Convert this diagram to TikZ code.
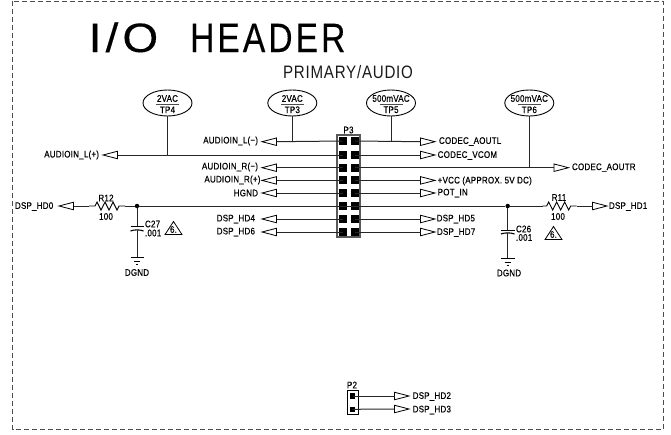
\documentclass[tikz,border=0pt]{standalone}
\usepackage{fontspec}
\setmainfont{Liberation Sans}
\newfontfamily\titlefont[LetterSpace=9,FakeBold=0.3]{Liberation Sans}
\newfontfamily\subfont[LetterSpace=5]{Liberation Sans}
\newfontfamily\smallfont[LetterSpace=3,FakeBold=0.5]{Liberation Sans}
\usetikzlibrary{shapes.geometric}
\tikzset{
  x=1pt,y=-1pt,
  wire/.style={line width=1pt,draw=black!85},
  flagbase/.style={isosceles triangle,isosceles triangle stretches=true,draw=black,line width=0.8pt,
    minimum width=7.5pt,minimum height=14.5pt,inner sep=0pt,outer sep=0pt,anchor=apex},
  flagl/.style={flagbase,shape border rotate=180},
  flagr/.style={flagbase,shape border rotate=0},
  txt/.style={font=\fontsize{9.5}{10}\selectfont\smallfont,xscale=0.84,inner sep=0pt,outer sep=0pt,text=black},
  txtl/.style={txt,anchor=west},
  txtr/.style={txt,anchor=east},
  txtc/.style={txt,anchor=center},
  tp/.style={ellipse,draw=black,line width=0.9pt,minimum width=49pt,minimum height=26pt,inner sep=0pt},
  tpbar/.style={line width=0.9pt,draw=black!70},
  pinsq/.style={rectangle,fill=black,minimum size=8pt,inner sep=0pt},
  hdr/.style={rectangle,draw=black!65,line width=1.1pt,inner sep=0pt},
  dot/.style={circle,fill=black,minimum size=4.5pt,inner sep=0pt},
  warn/.style={isosceles triangle,isosceles triangle stretches=true,draw=black,line width=0.8pt,
    minimum width=17pt,minimum height=13pt,inner sep=0pt,anchor=apex,shape border rotate=90},
  sym/.style={line width=0.9pt,draw=black},
  bigtxt/.style={anchor=base west,inner sep=0pt,text=black,font=\fontsize{41}{44}\selectfont\titlefont}
}
\begin{document}
\begin{tikzpicture}
\useasboundingbox (0,0) rectangle (671,434);
\coordinate (bTL) at (12.5,1);
\coordinate (bBR) at (663,429.5);
\draw[draw=black!70,line width=0.9pt,dash pattern=on 5pt off 3pt] (bTL) rectangle (bBR);

% titles
\node[bigtxt,xscale=1.12] (title) at (88.5,52) {I/O};
\node[bigtxt,xscale=0.82] (titleb) at (190,52) {HEADER};
\node[anchor=base west,inner sep=0pt,text=black!90,xscale=0.84,font=\fontsize{18}{20}\selectfont\subfont] (sub) at (283,78) {PRIMARY/AUDIO};

% P3 header
\node[hdr,minimum width=23pt,minimum height=102pt] (P3) at (348.5,186) {};
\node[txtc] (P3t) at (348.5,130) {P3};
\foreach \n/\y in {1/141,2/155,3/167.7,4/180.4,5/193,6/206,7/219,8/232}{
  \node[pinsq] (L\n) at (342.5,\y) {};
  \node[pinsq] (R\n) at (355,\y) {};
}

% left flags
\node[flagl] (fL1) at (262,141.7) {};
\node[flagl] (fL2) at (103,155) {};
\node[flagl] (fL3) at (262,167.7) {};
\node[flagl] (fL4) at (262,180.4) {};
\node[flagl] (fL5) at (262,193) {};
\node[flagl] (fL6) at (59,206) {};
\node[flagl] (fL7) at (262,219) {};
\node[flagl] (fL8) at (262,232) {};
\node[txtr] (tL1) at (258,141) {AUDIOIN\_L(−)};
\node[txtr] (tL2) at (99,155) {AUDIOIN\_L(+)};
\node[txtr] (tL3) at (258,167) {AUDIOIN\_R(−)};
\node[txtr] (tL4) at (260.5,180) {AUDIOIN\_R(+)};
\node[txtr] (tL5) at (258,193) {HGND};
\node[txtl] (tL6) at (15,206.5) {DSP\_HD0};
\node[txtr] (tL7) at (255,219) {DSP\_HD4};
\node[txtr] (tL8) at (255,232) {DSP\_HD6};

% right flags
\node[flagr] (fR1) at (435,141.7) {};
\node[flagr] (fR2) at (435,155) {};
\node[flagr] (fR3) at (568.5,167.7) {};
\node[flagr] (fR4) at (435,180.4) {};
\node[flagr] (fR5) at (435,193) {};
\node[flagr] (fR6) at (607,206) {};
\node[flagr] (fR7) at (435,219) {};
\node[flagr] (fR8) at (435,232) {};
\node[txtl] (tR1) at (439,141.5) {CODEC\_AOUTL};
\node[txtl] (tR2) at (437.7,155.5) {CODEC\_VCOM};
\node[txtl] (tR3) at (572,167.7) {CODEC\_AOUTR};
\node[txtl] (tR4) at (437.7,181) {+VCC (APPROX. 5V DC)};
\node[txtl] (tR5) at (437.7,193) {POT\_IN};
\node[txtl] (tR6) at (609,206.5) {DSP\_HD1};
\node[txtl] (tR7) at (436.7,219) {DSP\_HD5};
\node[txtl] (tR8) at (437,232.5) {DSP\_HD7};

% wires to flags
\foreach \n in {1,2,3,4,5,7,8}{
  \draw[wire] (fL\n.lower side) -- (L\n.center);
}
\foreach \n in {1,2,3,4,5,7,8}{
  \draw[wire] (R\n.center) -- (fR\n.lower side);
}
\draw[wire] (L6.center) -- (R6.center);

% junctions
\node[dot] (j1) at (137,206) {};
\node[dot] (j2) at (507.7,206) {};

% R12
\coordinate (r12a) at (89,206);
\coordinate (r12b) at (125,206);
\draw[wire] (fL6.lower side) -- (r12a);
\draw[sym] (r12a) -- ++(6,0) -- ++(2,-4) -- ++(4,8) -- ++(4,-8) -- ++(4,8) -- ++(4,-8) -- ++(4,8) -- ++(2,-4) -- (r12b);
\draw[wire] (r12b) -- (j1) -- (L6.center);
\node[txtc] (r12t) at (106,198) {R12};
\node[txtc] (r12v) at (106,216.5) {100};

% R11
\coordinate (r11a) at (542.7,206);
\coordinate (r11b) at (576.7,206);
\draw[wire] (R6.center) -- (j2) -- (r11a);
\draw[sym] (r11a) -- ++(4,0) -- ++(2,-4) -- ++(4,8) -- ++(4,-8) -- ++(4,8) -- ++(4,-8) -- ++(4,8) -- ++(2,-4) -- (r11b);
\draw[wire] (r11b) -- (fR6.lower side);
\node[txtc] (r11t) at (559,197.5) {R11};
\node[txtc] (r11v) at (558,216.5) {100};

% C27
\coordinate (c27a) at (137,226);
\coordinate (c27b) at (137,230);
\coordinate (g1) at (137,257);
\draw[wire] (j1) -- (c27a);
\draw[sym] (130.5,226) -- (143.5,226);
\draw[sym,line width=1.1pt] (130.5,231) .. controls (134,229.5) and (140,229.5) .. (143.5,231);
\draw[wire] (c27b) -- (g1);
\draw[sym] (130.5,257) -- (143.5,257) (134,261) -- (140,261) (136,264) -- (138,264);
\node[txtc] (dg1) at (137,272.5) {DGND};
\node[txtl] (c27t) at (145,224) {C27};
\node[txtl] (c27v) at (145,233) {.001};
\node[warn] (w1) at (173.5,220.5) {};
\node[txtc] (w1t) at (173.5,229.5) {6.};

% C26
\coordinate (c26a) at (507.7,230);
\coordinate (c26b) at (507.7,233);
\coordinate (g2) at (507.7,258);
\draw[wire] (j2) -- (c26a);
\draw[sym] (501,230) -- (514.5,230);
\draw[sym,line width=1.1pt] (501,234) .. controls (504.5,232.5) and (511,232.5) .. (514.5,234);
\draw[wire] (c26b) -- (g2);
\draw[sym] (501,258) -- (514.5,258) (504.7,262) -- (510.7,262) (506.7,265) -- (508.7,265);
\node[txtc] (dg2) at (509,273) {DGND};
\node[txtl] (c26t) at (516,229) {C26};
\node[txtl] (c26v) at (516,237.5) {.001};
\node[warn] (w2) at (553.5,225.5) {};
\node[txtc] (w2t) at (553.5,234.5) {6.};

% Test points
\foreach \nm/\x/\a/\b in {TP4/167.5/2VAC/TP4,TP3/292.3/2VAC/TP3,TP5/391/500mVAC/TP5,TP6/529.3/500mVAC/TP6}{
  \node[tp] (\nm) at (\x,103) {};
  \draw[tpbar] (\x-11.5,104) -- (\x+11.5,104);
  \node[txtc] at (\x,98.5) {\a};
  \node[txtc] at (\x,109.8) {\b};
}
\coordinate (jt4) at (167.5,155);
\coordinate (jt3) at (292.3,141.7);
\coordinate (jt5) at (391,141.7);
\coordinate (jt6) at (529.3,167.7);
\draw[wire] (TP4.south) -- (jt4);
\draw[wire] (TP3.south) -- (jt3);
\draw[wire] (TP5.south) -- (jt5);
\draw[wire] (TP6.south) -- (jt6);

% P2
\node[hdr,draw=black,line width=0.9pt,minimum width=10.5pt,minimum height=23.5pt] (P2) at (352.7,402.5) {};
\node[txtc] (P2t) at (352,385) {P2};
\node[pinsq,minimum size=5.5pt] (p21) at (352.5,396) {};
\node[pinsq,minimum size=5.5pt] (p22) at (352.5,409.3) {};
\node[flagr] (f21) at (409,396) {};
\node[flagr] (f22) at (409,409) {};
\draw[wire] (p21.center) -- (f21.lower side);
\draw[wire] (p22.center) -- (f22.lower side);
\node[txtl] (t21) at (412.7,396.5) {DSP\_HD2};
\node[txtl] (t22) at (412.7,410) {DSP\_HD3};
\end{tikzpicture}
\end{document}
